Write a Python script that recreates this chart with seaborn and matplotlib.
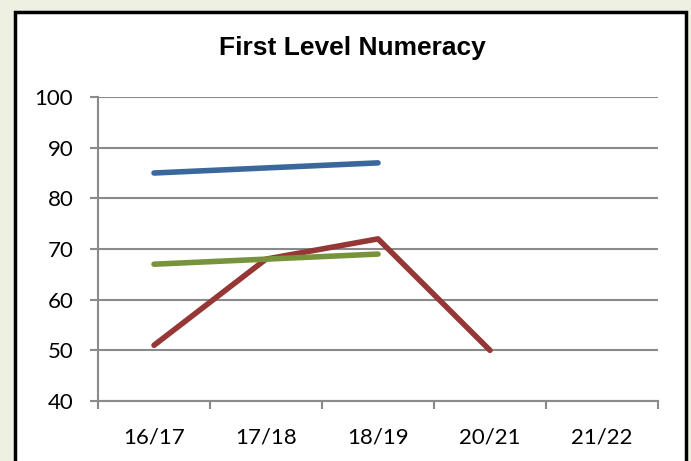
import matplotlib
matplotlib.use("Agg")
import matplotlib.pyplot as plt
from matplotlib.patches import Rectangle
import pandas as pd
import seaborn as sns

# chart data
years = ["16/17", "17/18", "18/19", "20/21", "21/22"]
blue_vals = [85, 86, 87]
red_vals = [51, 68, 72, 50]
green_vals = [67, 68, 69]
colors = {"blue": "#3a679c", "red": "#953735", "green": "#77933c"}

rows = []
for name, vals in [("blue", blue_vals), ("red", red_vals), ("green", green_vals)]:
    for i, v in enumerate(vals):
        rows.append({"pos": i, "value": v, "series": name})
df = pd.DataFrame(rows)

sns.set_style("white")
plt.rcParams["font.family"] = ["Lato", "DejaVu Sans"]

fig = plt.figure(figsize=(6.91, 4.61), dpi=100)
fig.patch.set_facecolor("#eef0e1")
# white chart area with black border
fig.patches.append(Rectangle((15 / 691, -0.05), 671 / 691, 1 - 12 / 461 + 0.05,
                             transform=fig.transFigure, facecolor="white",
                             edgecolor="black", linewidth=2.5, zorder=-10))

ax = fig.add_axes([98 / 691, 1 - 401 / 461, 560 / 691, 304 / 461])
ax.patch.set_alpha(0)

sns.lineplot(data=df, x="pos", y="value", hue="series", palette=colors,
             linewidth=4, legend=False, ax=ax, zorder=3, solid_capstyle="round")

ax.set_xlim(-0.5, 4.5)
ax.set_ylim(40, 100)
ax.set_yticks(range(40, 101, 10))
ax.yaxis.grid(True, color="#8a8a8a", linewidth=1.5)
ax.set_axisbelow(True)

ax.set_xticks([i - 0.5 for i in range(len(years) + 1)])
ax.set_xticklabels([])
ax.set_xticks(range(len(years)), minor=True)
ax.set_xticklabels(years, minor=True)
ax.tick_params(axis="x", which="major", length=5.8, width=1.5, color="#8a8a8a", direction="out", bottom=True)
ax.tick_params(axis="x", which="minor", length=0, labelsize=16, pad=19, labelcolor="black")
ax.tick_params(axis="y", length=5.8, width=1.5, color="#8a8a8a", direction="out", left=True,
               labelsize=16, pad=12, labelcolor="black")

for s in ["top", "right"]:
    ax.spines[s].set_visible(False)
for s in ["left", "bottom"]:
    ax.spines[s].set_color("#8a8a8a")
    ax.spines[s].set_linewidth(1.5)

ax.set_xlabel("")
ax.set_ylabel("")
fig.text(352 / 691, 1 - 48 / 461, "First Level Numeracy", ha="center", va="center",
         fontsize=19, fontweight="bold", family="Liberation Sans", color="black")

fig.savefig("out.png", dpi=100, facecolor=fig.get_facecolor())
